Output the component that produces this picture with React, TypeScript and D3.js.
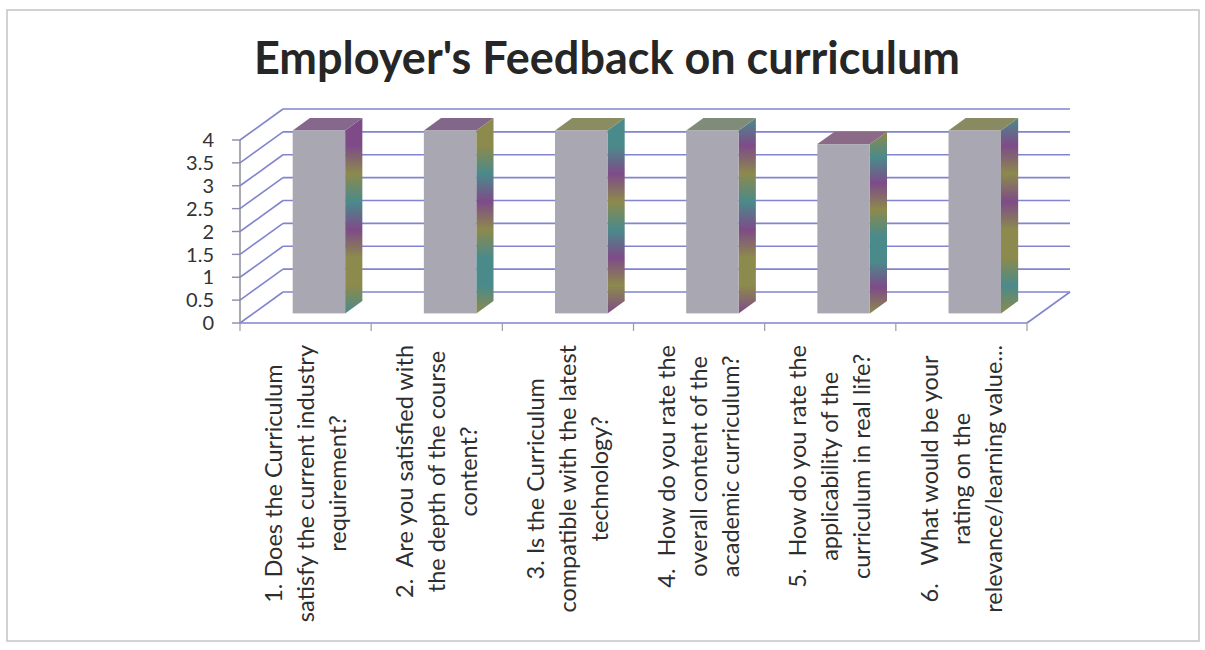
import React, { useEffect, useRef } from "react";
import * as d3 from "d3";

const chartTitle = "Employer's Feedback on curriculum";
const categories = ["Q1", "Q2", "Q3", "Q4", "Q5", "Q6"];
const categoryLines: string[][] = [
  ["1. Does the Curriculum", "satisfy the current industry", "requirement?"],
  ["2.  Are you satisfied with", "the depth of the course", "content?"],
  ["3. Is the Curriculum", "compatible with the latest", "technology?"],
  ["4.  How do you rate the", "overall content of the", "academic curriculum?"],
  ["5.  How do you rate the", "applicability of the", "curriculum in real life?"],
  ["6.   What would be your", "rating on the", "relevance/learning value..."],
];
const values = [4.0, 4.0, 4.0, 4.0, 3.7, 4.0];
const yTicks = [0, 0.5, 1, 1.5, 2, 2.5, 3, 3.5, 4];
const yTickLabels = ["0", "0.5", "1", "1.5", "2", "2.5", "3", "3.5", "4"];

const P = "#7e4b88";
const O = "#8c8a4c";
const T = "#4b8a8b";
const sideBands: string[][] = [
  [P, P, O, T, P, O, O, T],
  [O, O, T, P, O, T, T, O],
  [T, T, P, O, T, P, O, P],
  [T, P, O, T, P, O, O, P],
  [O, T, P, O, T, T, P, O],
  [T, P, O, P, O, O, T, O],
];
const topColors = ["#86688c", "#83678a", "#8a8c62", "#7f8c7a", "#8a6a86", "#8a8a62"];

export default function App() {
  const ref = useRef<SVGSVGElement | null>(null);

  useEffect(() => {
    const svg = d3.select(ref.current);
    svg.selectAll("*").remove();

    const left = 240;
    const right = 1027;
    const floorY = 323;
    const topY = 140;
    const ddx = 43;
    const ddy = -31;
    const barFront = 0.31;
    const barDepth = 0.4;
    const gridColor = "#8184cf";
    const font = "Lato, 'Open Sans', sans-serif";

    const x = d3.scaleBand<string>().domain(categories).range([left, right]).padding(0);
    const y = d3.scaleLinear().domain([0, 4]).range([floorY, topY]);

    // border
    svg.append("rect").attr("x", 7).attr("y", 10).attr("width", 1192).attr("height", 631)
      .attr("fill", "#fff").attr("stroke", "#c4c4c8").attr("stroke-width", 1.5);

    // title
    svg.append("text").attr("x", 607).attr("y", 74).attr("text-anchor", "middle")
      .attr("font-family", font).attr("font-weight", 700)
      .attr("font-size", 45).attr("fill", "#262626").text(chartTitle);

    const defs = svg.append("defs");
    sideBands.forEach((bands, i) => {
      const g = defs.append("linearGradient").attr("id", `side${i}`)
        .attr("x1", 0).attr("y1", 0).attr("x2", 0).attr("y2", 1);
      bands.forEach((c, j) => {
        g.append("stop").attr("offset", j / (bands.length - 1)).attr("stop-color", c);
      });
    });

    // back wall gridlines and left wall diagonals
    yTicks.forEach((t) => {
      const yy = y(t);
      svg.append("line").attr("x1", left).attr("y1", yy).attr("x2", left + ddx).attr("y2", yy + ddy)
        .attr("stroke", gridColor).attr("stroke-width", 1.6);
      svg.append("line").attr("x1", left + ddx).attr("y1", yy + ddy).attr("x2", right + ddx).attr("y2", yy + ddy)
        .attr("stroke", gridColor).attr("stroke-width", 1.6);
    });

    // floor edges
    svg.append("line").attr("x1", left).attr("y1", floorY).attr("x2", right).attr("y2", floorY)
      .attr("stroke", gridColor).attr("stroke-width", 1.6);
    svg.append("line").attr("x1", right).attr("y1", floorY).attr("x2", right + ddx).attr("y2", floorY + ddy)
      .attr("stroke", gridColor).attr("stroke-width", 1.6);

    // bars
    const bw = x.bandwidth() * 0.4;
    categories.forEach((c, i) => {
      const cx = (x(c) as number) + x.bandwidth() / 2 + barFront * ddx;
      const ox = barFront * ddy;
      const x0 = cx - bw / 2;
      const x1 = cx + bw / 2;
      const yb = y(0) + ox;
      const yt = y(values[i]) + ox;
      const sdx = barDepth * ddx;
      const sdy = barDepth * ddy;
      const g = svg.append("g");
      g.append("polygon")
        .attr("points", [[x1, yt], [x1 + sdx, yt + sdy], [x1 + sdx, yb + sdy], [x1, yb]].map((p) => p.join(",")).join(" "))
        .attr("fill", `url(#side${i})`);
      g.append("polygon")
        .attr("points", [[x0, yt], [x1, yt], [x1 + sdx, yt + sdy], [x0 + sdx, yt + sdy]].map((p) => p.join(",")).join(" "))
        .attr("fill", topColors[i]);
      g.append("rect").attr("x", x0).attr("y", yt).attr("width", bw).attr("height", yb - yt)
        .attr("fill", "#a9a7b2");
    });

    // y axis
    svg.append("line").attr("x1", left).attr("y1", topY).attr("x2", left).attr("y2", floorY)
      .attr("stroke", "#8c8c96").attr("stroke-width", 1.5);
    yTicks.forEach((t, i) => {
      svg.append("line").attr("x1", left - 8).attr("y1", y(t)).attr("x2", left).attr("y2", y(t))
        .attr("stroke", "#8c8ab0").attr("stroke-width", 1.4);
      svg.append("text").attr("x", 214).attr("y", y(t)).attr("dy", "0.36em").attr("text-anchor", "end")
        .attr("font-family", font).attr("font-size", 20).attr("fill", "#333")
        .text(yTickLabels[i]);
    });

    // category ticks
    const edges = categories.map((c) => x(c) as number).concat([right]);
    edges.forEach((e) => {
      svg.append("line").attr("x1", e).attr("y1", floorY).attr("x2", e).attr("y2", floorY + 8)
        .attr("stroke", "#9a9aa4").attr("stroke-width", 1.2);
    });

    // category labels
    categories.forEach((c, i) => {
      const cx = (x(c) as number) + x.bandwidth() / 2;
      const lines = categoryLines[i];
      const texts = lines.map((ln) =>
        svg.append("text")
          .attr("font-family", font).attr("font-size", 23.5).attr("fill", "#2e2e2e")
          .attr("text-anchor", "middle").attr("dy", "0.35em")
          .style("white-space", "pre")
          .text(ln)
      );
      const maxLen = d3.max(texts.map((t) => (t.node() as SVGTextElement).getComputedTextLength())) || 0;
      const cy = 345 + maxLen / 2;
      texts.forEach((t, j) => {
        const lx = cx + (j - 1) * 32;
        t.attr("transform", `translate(${lx},${cy}) rotate(-90)`);
      });
    });
  }, []);

  return (
    <svg ref={ref} width={1205} height={650}
      style={{ position: "absolute", left: 0, top: 0, background: "#fff" }} />
  );
}
